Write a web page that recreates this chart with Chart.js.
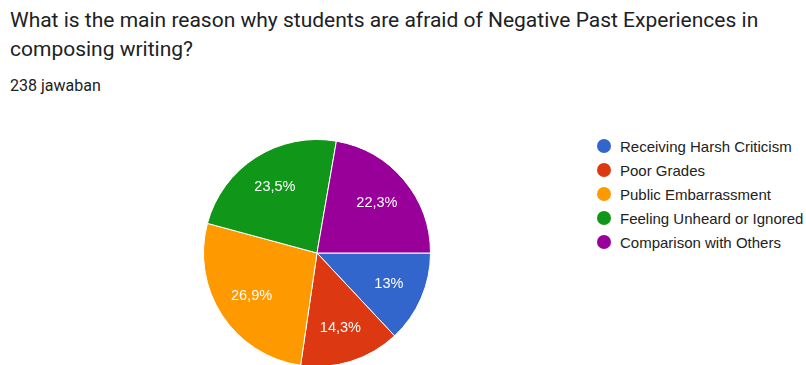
<!DOCTYPE html>
<html>
<head>
<meta charset="utf-8">
<script src="https://cdn.jsdelivr.net/npm/chart.js@4/dist/chart.umd.min.js"></script>
<style>
  html, body { margin: 0; padding: 0; background: #fff; width: 806px; height: 365px; overflow: hidden; }
  #title { position: absolute; left: 10px; top: 6px; width: 770px; font-family: Roboto, sans-serif; font-size: 21px; line-height: 29px; color: #202124; }
  #sub { position: absolute; left: 10px; top: 76px; font-family: Roboto, sans-serif; font-size: 16px; color: #202124; }
  #pieWrap { position: absolute; left: 193px; top: 129px; }
  #legend { position: absolute; left: 597px; top: 134px; font-family: "Liberation Sans", Arial, sans-serif; font-size: 15px; color: #222; }
  .row { height: 24px; display: flex; align-items: center; }
  .dot { width: 14px; height: 14px; border-radius: 50%; margin-right: 9px; flex: none; }
</style>
</head>
<body>
<div id="title">What is the main reason why students are afraid of Negative Past Experiences in composing writing?</div>
<div id="sub">238 jawaban</div>
<div id="pieWrap"><canvas id="pie" width="248" height="248"></canvas></div>
<div id="legend"></div>
<script>
const categories = ["Receiving Harsh Criticism", "Poor Grades", "Public Embarrassment", "Feeling Unheard or Ignored", "Comparison with Others"];
const counts = [31, 34, 64, 56, 53];
const percentLabels = ["13%", "14,3%", "26,9%", "23,5%", "22,3%"];
const colors = ["#3366cc", "#dc3912", "#ff9900", "#109618", "#990099"];

const legend = document.getElementById('legend');
categories.forEach((c, i) => {
  const r = document.createElement('div'); r.className = 'row';
  const d = document.createElement('span'); d.className = 'dot'; d.style.background = colors[i];
  const t = document.createElement('span'); t.textContent = c;
  r.appendChild(d); r.appendChild(t); legend.appendChild(r);
});

const labelPlugin = {
  id: 'sliceLabels',
  afterDatasetsDraw(chart) {
    const ctx = chart.ctx;
    const meta = chart.getDatasetMeta(0);
    ctx.save();
    ctx.fillStyle = '#ffffff';
    ctx.font = '14.5px "Liberation Sans", Arial, sans-serif';
    ctx.textAlign = 'center';
    ctx.textBaseline = 'middle';
    meta.data.forEach((arc, i) => {
      const p = arc.getProps(['x','y','startAngle','endAngle','outerRadius'], true);
      const mid = (p.startAngle + p.endAngle) / 2;
      const r = p.outerRadius * 0.69;
      ctx.fillText(percentLabels[i], p.x + Math.cos(mid) * r, p.y + Math.sin(mid) * r);
    });
    ctx.restore();
  }
};

new Chart(document.getElementById('pie'), {
  type: 'pie',
  data: {
    labels: categories,
    datasets: [{ data: counts, backgroundColor: colors, borderColor: '#ffffff', borderWidth: 1 }]
  },
  options: {
    responsive: false,
    animation: false,
    rotation: 90,
    layout: { padding: 10 },
    plugins: { legend: { display: false }, tooltip: { enabled: false } }
  },
  plugins: [labelPlugin]
});
</script>
</body>
</html>
